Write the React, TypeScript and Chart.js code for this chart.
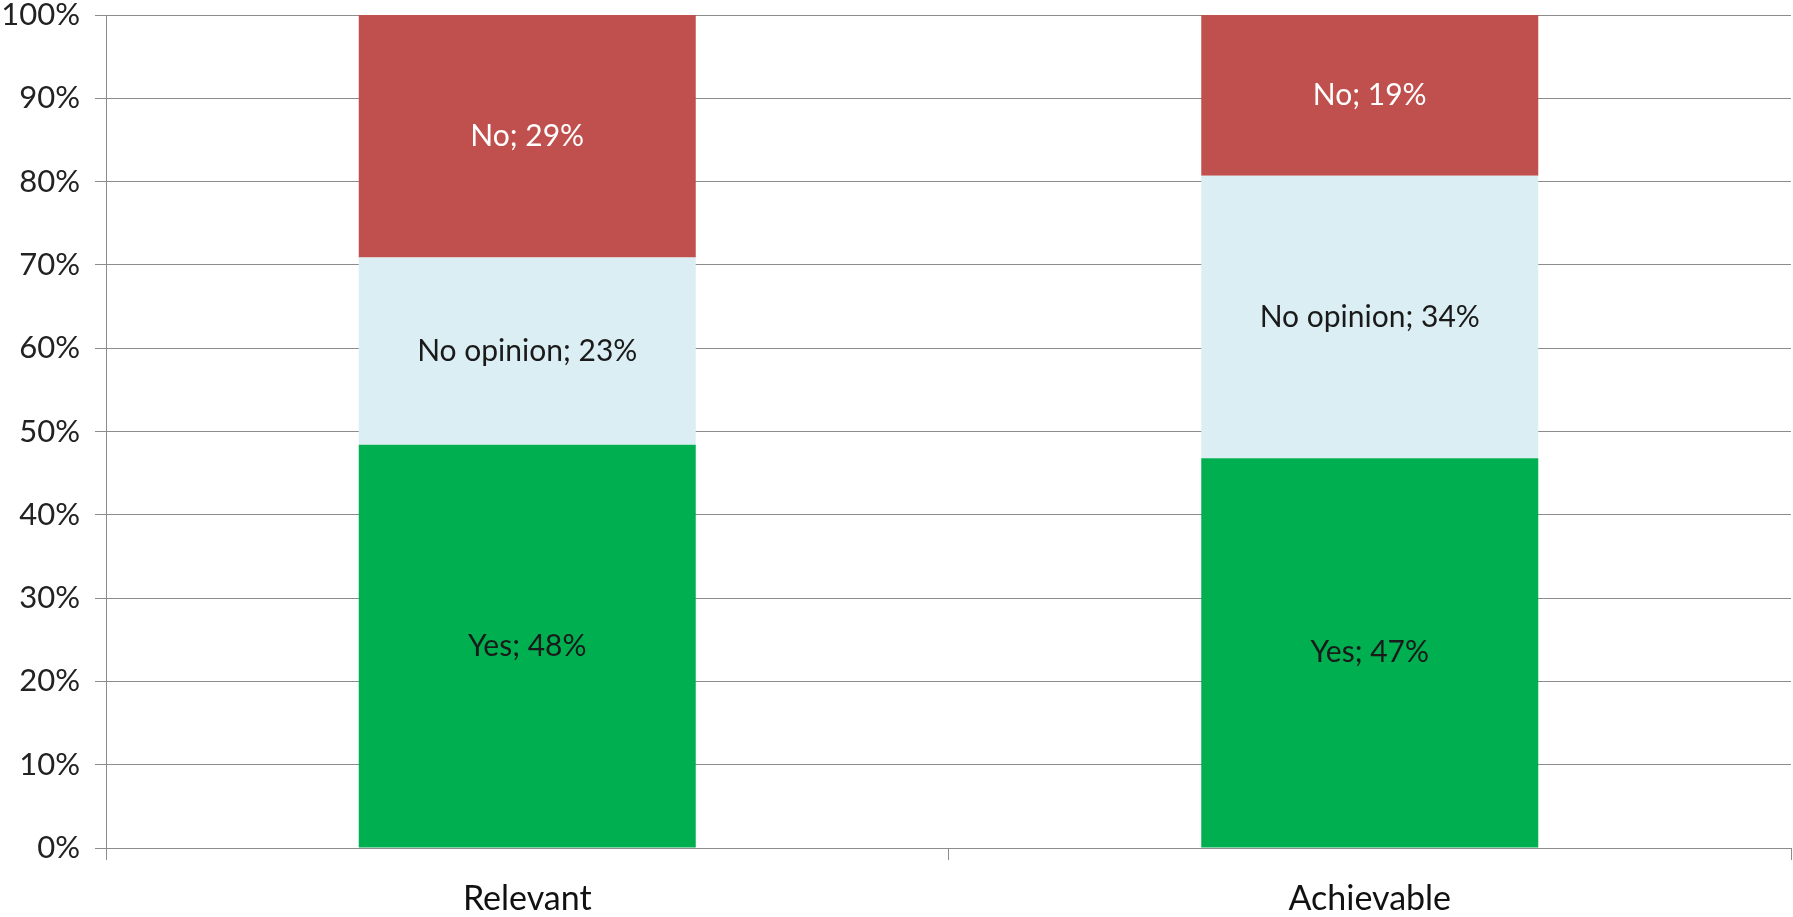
import React, { useEffect, useRef } from "react";
import { Chart, registerables } from "chart.js";

Chart.register(...registerables);

const categories = ["Relevant", "Achievable"];
const seriesNames = ["Yes", "No opinion", "No"];
const yesValues = [48.4, 46.8];
const noOpinionValues = [22.5, 33.9];
const noValues = [29.1, 19.3];
const yesLabels = [48, 47];
const noOpinionLabels = [23, 34];
const noLabels = [29, 19];
const yTickValues = [0, 10, 20, 30, 40, 50, 60, 70, 80, 90, 100];

const seriesColors = ["#00B050", "#DBEEF4", "#C0504D"];
const labelColors = ["#1a1a1a", "#1a1a1a", "#ffffff"];
const FONT = "Lato, 'Open Sans', sans-serif";

export default function App() {
  const ref = useRef<HTMLCanvasElement | null>(null);

  useEffect(() => {
    if (!ref.current) return;
    const seriesValues = [yesValues, noOpinionValues, noValues];
    const seriesLabels = [yesLabels, noOpinionLabels, noLabels];

    const labelPlugin = {
      id: "segLabels",
      afterDatasetsDraw(chart: any) {
        const ctx = chart.ctx;
        chart.data.datasets.forEach((ds: any, i: number) => {
          const meta = chart.getDatasetMeta(i);
          meta.data.forEach((el: any, j: number) => {
            const p = el.getProps(["x", "y", "base"], true);
            ctx.save();
            ctx.font = `30px ${FONT}`;
            ctx.fillStyle = labelColors[i];
            ctx.textAlign = "center";
            ctx.textBaseline = "middle";
            ctx.fillText(`${ds.label}; ${seriesLabels[i][j]}%`, p.x, (p.y + p.base) / 2);
            ctx.restore();
          });
        });
      },
    };

    const chart = new Chart(ref.current, {
      type: "bar",
      data: {
        labels: categories,
        datasets: seriesNames.map((name, i) => ({
          label: name,
          data: seriesValues[i],
          backgroundColor: seriesColors[i],
          borderWidth: 0,
          categoryPercentage: 1,
          barPercentage: 0.4,
        })),
      },
      options: {
        animation: false,
        responsive: true,
        maintainAspectRatio: false,
        layout: { padding: { top: 0, right: 2, left: 0, bottom: 0 } },
        plugins: {
          legend: { display: false },
          tooltip: { enabled: false },
        },
        scales: {
          x: {
            stacked: true,
            grid: {
              offset: true,
              drawOnChartArea: false,
              drawTicks: true,
              tickLength: 12,
              color: "#8c8c8c",
              lineWidth: 1,
            },
            border: { display: true, color: "#8c8c8c", width: 1 },
            ticks: {
              font: { family: FONT, size: 34 },
              color: "#111111",
              padding: 19,
            },
            afterFit(scale: any) {
              scale.height = 69;
            },
          },
          y: {
            stacked: true,
            min: 0,
            max: 100,
            afterBuildTicks(scale: any) {
              scale.ticks = yTickValues.map((v) => ({ value: v }));
            },
            ticks: {
              callback: (v: any) => `${v}%`,
              font: { family: FONT, size: 31, lineHeight: 0 },
              color: "#222222",
              padding: 15,
            },
            grid: {
              color: "#8c8c8c",
              lineWidth: 1,
              tickLength: 11,
              drawTicks: true,
            },
            border: { display: true, color: "#8c8c8c", width: 1 },
            afterFit(scale: any) {
              scale.width = 106;
            },
          },
        },
      },
      plugins: [labelPlugin],
    });
    return () => chart.destroy();
  }, []);

  return (
    <div
      style={{
        position: "absolute",
        left: 0,
        top: 0,
        width: 1793,
        height: 917,
        background: "#ffffff",
      }}
    >
      <canvas ref={ref} />
    </div>
  );
}
